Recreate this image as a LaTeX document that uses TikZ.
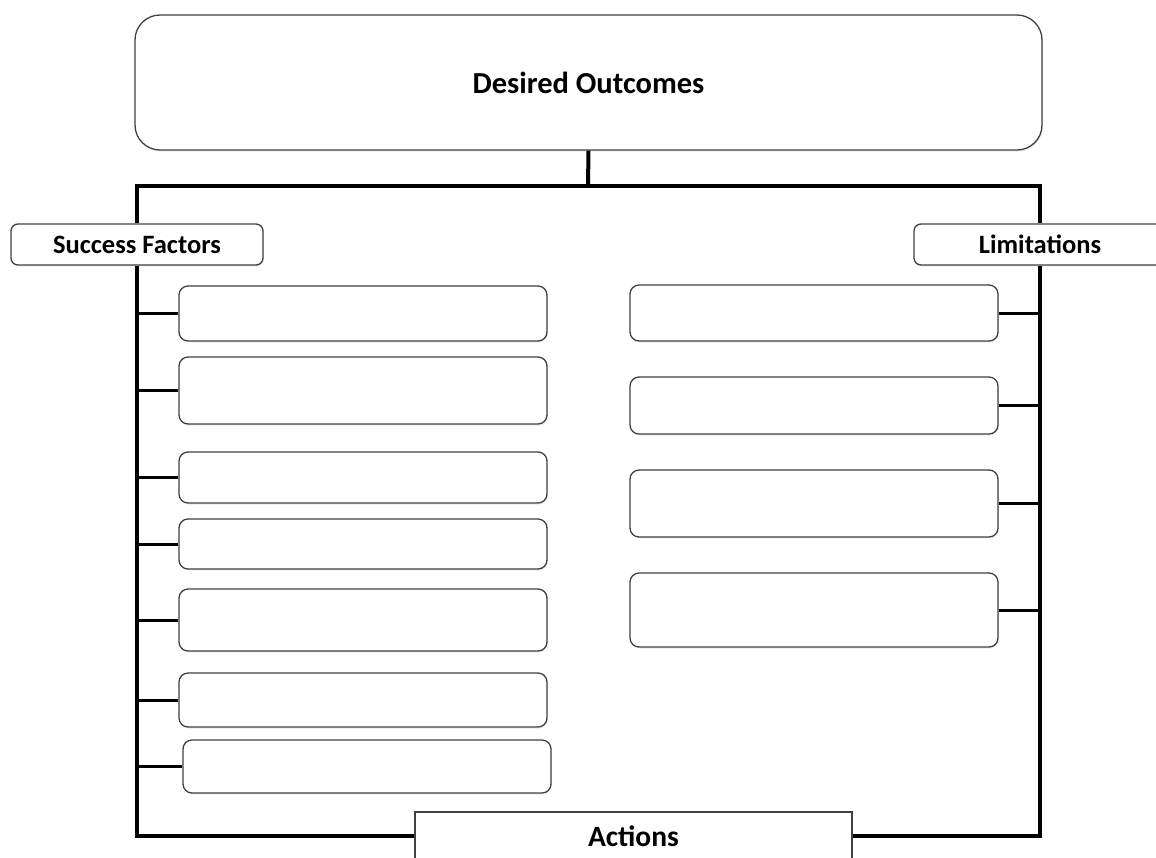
\documentclass[tikz,border=0pt]{standalone}
\usepackage{fontspec}
\setmainfont{Carlito}
\usetikzlibrary{shadows, positioning}

\begin{document}
\begin{tikzpicture}[
        x=1pt, y=-1pt,
        thick,
        soft/.style={drop shadow={opacity=0.15, shadow xshift=1pt, shadow yshift=-1.5pt}},
        block/.style={rectangle, draw=black!75, line width=1.3pt, fill=white, rounded corners=9pt, minimum width=368pt, inner sep=0pt, soft},
        tag/.style={rectangle, draw=black!75, line width=1.3pt, fill=white, rounded corners=7pt, minimum width=252pt, minimum height=41pt, inner sep=0pt, font=\fontsize{26.5}{30}\selectfont\bfseries, soft},
        frame/.style={draw, line width=4pt, black},
        line/.style={draw, line width=3pt, black}
    ]
        \useasboundingbox (0,0) rectangle (1156,857);

        % Nodes
        \node [rectangle, draw=black!75, line width=1.3pt, fill=white, rounded corners=25pt, minimum width=907pt, minimum height=135pt, font=\fontsize{30.5}{34}\selectfont\bfseries, soft] (goal) at (588.5,82.5) {\raisebox{-4pt}{Desired Outcomes}};
        \node [tag] (sf) at (137,244.5) {\raisebox{-2pt}{Success Factors}};
        \node [tag] (lim) at (1040,244.5) {\raisebox{-2pt}{Limitations}};
        \node [rectangle, draw=black!75, line width=1.3pt, fill=white, minimum width=437pt, minimum height=48pt, font=\fontsize{29.5}{33}\selectfont\bfseries, soft] (act) at (633.5,836) {\raisebox{-2pt}{Actions}};
        \coordinate (split) at (588,186);

        \node [block, minimum height=55pt] (s1) at (363,313.5) {};
        \node [block, minimum height=67pt] (s2) at (363,390.5) {};
        \node [block, minimum height=51pt] (s3) at (363,477.5) {};
        \node [block, minimum height=50pt] (s4) at (363,544) {};
        \node [block, minimum height=62pt] (s5) at (363,620) {};
        \node [block, minimum height=54pt] (s6) at (363,700) {};
        \node [block, minimum height=53pt] (s7) at (367,766.5) {};

        \node [block, minimum height=56pt] (l1) at (814,313) {};
        \node [block, minimum height=57pt] (l2) at (814,405.5) {};
        \node [block, minimum height=67pt] (l3) at (814,503.5) {};
        \node [block, minimum height=74pt] (l4) at (814,610) {};

        % Edges
        \path [frame] (goal.south) -- (split);
        \path [frame] (sf.north) |- (split) -| (lim.north);
        \path [frame] (sf.south) |- (act.west);
        \path [frame] (lim.south) |- (act.east);

        \path [line] (s1.west) -- (s1.west -| sf.south);
        \path [line] (s2.west) -- (s2.west -| sf.south);
        \path [line] (s3.west) -- (s3.west -| sf.south);
        \path [line] (s4.west) -- (s4.west -| sf.south);
        \path [line] (s5.west) -- (s5.west -| sf.south);
        \path [line] (s6.west) -- (s6.west -| sf.south);
        \path [line] (s7.west) -- (s7.west -| sf.south);

        \path [line] (l1.east) -- (l1.east -| lim.south);
        \path [line] (l2.east) -- (l2.east -| lim.south);
        \path [line] (l3.east) -- (l3.east -| lim.south);
        \path [line] (l4.east) -- (l4.east -| lim.south);
    \end{tikzpicture}
\end{document}
